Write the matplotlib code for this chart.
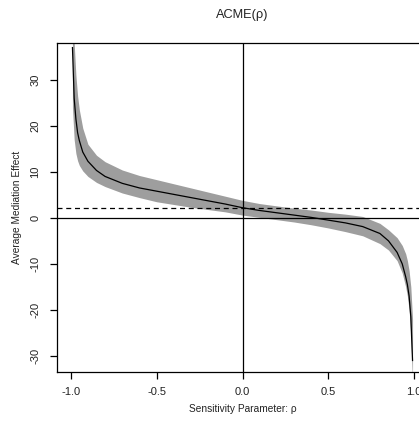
import numpy as np
import matplotlib.pyplot as plt

rho = [-0.99, -0.98, -0.97, -0.96, -0.95, -0.93, -0.90, -0.85, -0.80, -0.70,
       -0.60, -0.50, -0.40, -0.30, -0.20, -0.10, 0.00, 0.10, 0.20, 0.30,
       0.40, 0.50, 0.60, 0.70, 0.80, 0.85, 0.90, 0.93, 0.95, 0.96,
       0.97, 0.98, 0.99]
acme = [37.0, 26.0, 21.5, 18.5, 16.8, 14.3, 12.3, 10.3, 9.0, 7.5,
        6.5, 5.8, 5.1, 4.4, 3.7, 3.0, 2.2, 1.6, 1.1, 0.6,
        0.1, -0.5, -1.1, -1.9, -3.4, -5.0, -7.5, -10.0, -12.8, -14.5,
        -17.0, -21.5, -31.0]
lower = [24.0, 17.0, 14.0, 12.4, 11.4, 10.2, 9.0, 7.7, 6.8, 5.4,
         4.4, 3.5, 2.9, 2.3, 1.8, 1.3, 0.6, 0.1, -0.4, -0.9,
         -1.5, -2.2, -3.0, -3.9, -5.6, -7.0, -9.3, -12.0, -15.0, -17.0,
         -20.0, -25.5, -36.0]
upper = [45.0, 38.0, 31.0, 26.5, 23.5, 19.5, 16.0, 13.6, 12.2, 10.4,
         9.2, 8.3, 7.4, 6.5, 5.6, 4.7, 3.8, 3.1, 2.6, 2.1,
         1.7, 1.2, 0.8, 0.3, -1.2, -2.6, -4.3, -6.0, -7.8, -9.3,
         -11.5, -15.0, -22.0]
acme_est = 2.2  # estimativa em rho = 0 (linha tracejada)

xticks = [-1.0, -0.5, 0.0, 0.5, 1.0]
xticklabels = ['-1.0', '-0.5', '0.0', '0.5', '1.0']
yticks = [-30, -20, -10, 0, 10, 20, 30]
yticklabels = ['-30', '-20', '-10', '0', '10', '20', '30']

plt.rcParams['font.family'] = ['Liberation Sans', 'DejaVu Sans']

W, H = 419, 422
fig = plt.figure(figsize=(W / 100, H / 100), dpi=100)
ax = fig.add_axes([57 / W, 1 - 372 / H, 371 / W, 329 / H])

ax.fill_between(rho, lower, upper, color='#9e9e9e', linewidth=0)
ax.plot(rho, acme, color='black', linewidth=0.9)
ax.axhline(0, color='black', linewidth=0.9)
ax.axvline(0, color='black', linewidth=0.9)
ax.axhline(acme_est, color='black', linewidth=0.9, linestyle=(0, (4, 3)))

ax.set_xlim(-1.08, 1.08)
ax.set_ylim(-33.5, 38)

ax.set_xticks(xticks)
ax.set_xticklabels(xticklabels)
ax.set_yticks(yticks)
ax.set_yticklabels(yticklabels, rotation=90, va='center')
ax.tick_params(direction='out', length=5, width=0.9, labelsize=8,
               labelcolor='#222222')
ax.tick_params(axis='x', pad=6)
ax.tick_params(axis='y', pad=7)
for s in ax.spines.values():
    s.set_linewidth(0.9)

ax.set_xlabel('Sensitivity Parameter: ρ', fontsize=7.3, labelpad=5,
              color='#222222')
ax.set_ylabel('Average Mediation Effect', fontsize=7.3, labelpad=6,
              color='#222222')
fig.text(242 / W, 1 - 15 / H, 'ACME(ρ)', ha='center', va='center',
         fontsize=9.2, color='#222222')

fig.savefig('out.png', dpi=100)
